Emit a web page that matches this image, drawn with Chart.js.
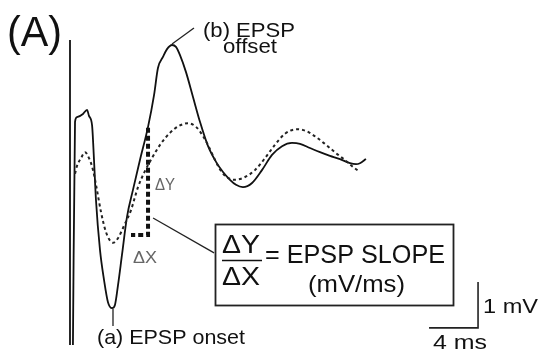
<!DOCTYPE html>
<html>
<head>
<meta charset="utf-8">
<script src="https://cdn.jsdelivr.net/npm/chart.js@4/dist/chart.umd.min.js"></script>
<style>
html,body{margin:0;padding:0;background:#fff;}
#wrap{width:541px;height:356px;position:relative;}
</style>
</head>
<body>
<div id="wrap"><canvas id="c"></canvas></div>
<script>
// Time in ms (0 = stimulus artifact), voltage in mV
const solidTime = [0.24,0.41,0.57,1.06,1.39,1.55,1.80,1.96,2.12,2.45,2.78,3.10,3.43,3.67,3.92,4.24,4.65,5.14,5.71,6.37,6.86,7.18,7.59,7.92,8.33,8.65,8.98,9.47,10.04,10.61,11.27,11.92,12.49,13.06,13.55,14.12,14.86,15.67,16.49,17.31,18.12,18.78,19.59,20.41,21.22,22.04,22.86,23.35,23.67,24.16];
const solidMV   = [-4.02,0.83,0.93,1.00,1.09,0.96,0.76,0.00,-0.87,-1.96,-2.61,-3.09,-3.22,-3.15,-2.72,-2.07,-1.24,-0.65,0.00,0.72,1.41,2.00,2.24,2.41,2.50,2.46,2.28,1.91,1.37,0.83,0.30,-0.04,-0.26,-0.43,-0.54,-0.59,-0.50,-0.22,0.11,0.30,0.37,0.35,0.26,0.17,0.09,0.02,-0.07,-0.09,-0.07,0.02];
const dashedTime = [0.41,0.57,0.90,1.22,1.55,1.88,2.20,2.53,2.94,3.51,3.92,4.41,4.98,5.55,6.12,6.69,7.35,8.16,8.90,9.63,10.29,10.86,11.35,11.84,12.33,12.90,13.47,14.29,15.10,15.92,16.73,17.55,18.53,19.27,20.08,20.90,21.71,22.53,23.10,23.67];
const dashedMV   = [-0.30,-0.13,0.04,0.17,0.04,-0.22,-0.65,-1.13,-1.57,-1.80,-1.70,-1.43,-1.09,-0.59,-0.24,0.04,0.33,0.59,0.74,0.80,0.72,0.52,0.28,0.00,-0.24,-0.39,-0.43,-0.37,-0.22,0.04,0.33,0.57,0.67,0.63,0.50,0.33,0.15,-0.02,-0.15,-0.26];
const artifactTime = [0, 0];
const artifactMV   = [2.61, -4.02];
const slopeTime = [6.37, 6.37, 4.98];
const slopeMV   = [0.70, -1.63, -1.63];
const scaleBarTime = [33.31, 33.31, 29.31];
const scaleBarMV   = [-2.65, -3.65, -3.65];
const leaderB = [[8.33, 2.52],[10.12, 2.87]];
const leaderA = [[3.51, -3.24],[3.51, -3.61]];
const leaderSlope = [[6.78, -1.26],[11.76, -2.02]];
const labels = {
  panel: "(A)",
  offset1: "(b) EPSP", offset2: "offset",
  onset: "(a) EPSP onset",
  dy: "ΔY", dx: "ΔX",
  eq: "= EPSP SLOPE", unit: "(mV/ms)",
  mv: "1 mV", ms: "4 ms"
};

const zip = (a,b) => a.map((v,i)=>({x:v,y:b[i]}));
const pairs = p => p.map(q=>({x:q[0],y:q[1]}));
const base = {pointRadius:0, fill:false, borderCapStyle:'butt'};

const F = 'Liberation Sans, Arial, Helvetica, sans-serif';
function fitText(ctx, text, x, y, size, width, color){
  ctx.save();
  ctx.font = size + 'px ' + F;
  ctx.fillStyle = color || '#111';
  const w = ctx.measureText(text).width;
  const s = width / w;
  ctx.translate(x, y);
  ctx.scale(s, 1);
  ctx.fillText(text, 0, 0);
  ctx.restore();
}

const textPlugin = {
  id:'texts',
  afterDatasetsDraw(chart){
    const ctx = chart.ctx;
    ctx.save();
    ctx.textBaseline = 'alphabetic';
    ctx.textAlign = 'left';
    fitText(ctx, labels.panel, 7, 46, 42, 55);
    fitText(ctx, labels.offset1, 203, 37, 21, 92);
    fitText(ctx, labels.offset2, 223, 53, 21, 54);
    fitText(ctx, labels.onset, 97, 344, 21, 148);
    fitText(ctx, labels.dy, 155, 190, 16, 20, '#666');
    fitText(ctx, labels.dx, 133, 263, 16, 24, '#666');
    // box
    ctx.strokeStyle = '#222';
    ctx.lineWidth = 1.8;
    ctx.strokeRect(215.5, 224.5, 238, 81);
    fitText(ctx, labels.dy, 222, 253, 25, 38);
    fitText(ctx, labels.dx, 222, 285, 25, 38);
    ctx.beginPath(); ctx.moveTo(222, 260.5); ctx.lineTo(262, 260.5); ctx.lineWidth = 1.6; ctx.strokeStyle = '#111'; ctx.stroke();
    fitText(ctx, labels.eq, 265, 263, 25, 180);
    fitText(ctx, labels.unit, 308, 292, 24, 97);
    fitText(ctx, labels.mv, 483, 313, 21, 55);
    fitText(ctx, labels.ms, 433, 349, 21, 54);
    ctx.restore();
  }
};

new Chart(document.getElementById('c'), {
  type:'line',
  data:{
    datasets:[
      {...base, data: zip(artifactTime, artifactMV), borderColor:'#111', borderWidth:1.8},
      {...base, data: zip(dashedTime, dashedMV), borderColor:'#222', borderWidth:2, borderDash:[3,3], cubicInterpolationMode:'monotone'},
      {...base, data: zip(solidTime, solidMV), borderColor:'#111', borderWidth:1.8, cubicInterpolationMode:'monotone'},
      {...base, data: zip(slopeTime, slopeMV), borderColor:'#111', borderWidth:4, borderDash:[5,3]},
      {...base, data: zip(scaleBarTime, scaleBarMV), borderColor:'#222', borderWidth:1.6},
      {...base, data: pairs(leaderB), borderColor:'#222', borderWidth:1.3},
      {...base, data: pairs(leaderA), borderColor:'#222', borderWidth:1.3},
      {...base, data: pairs(leaderSlope), borderColor:'#222', borderWidth:1.3}
    ]
  },
  options:{
    responsive:true, maintainAspectRatio:false, animation:false,
    layout:{padding:0},
    plugins:{legend:{display:false}, tooltip:{enabled:false}},
    scales:{
      x:{type:'linear', display:false, min:-5.714, max:38.449},
      y:{type:'linear', display:false, min:-4.261, max:3.478}
    }
  },
  plugins:[textPlugin]
});
</script>
</body>
</html>
